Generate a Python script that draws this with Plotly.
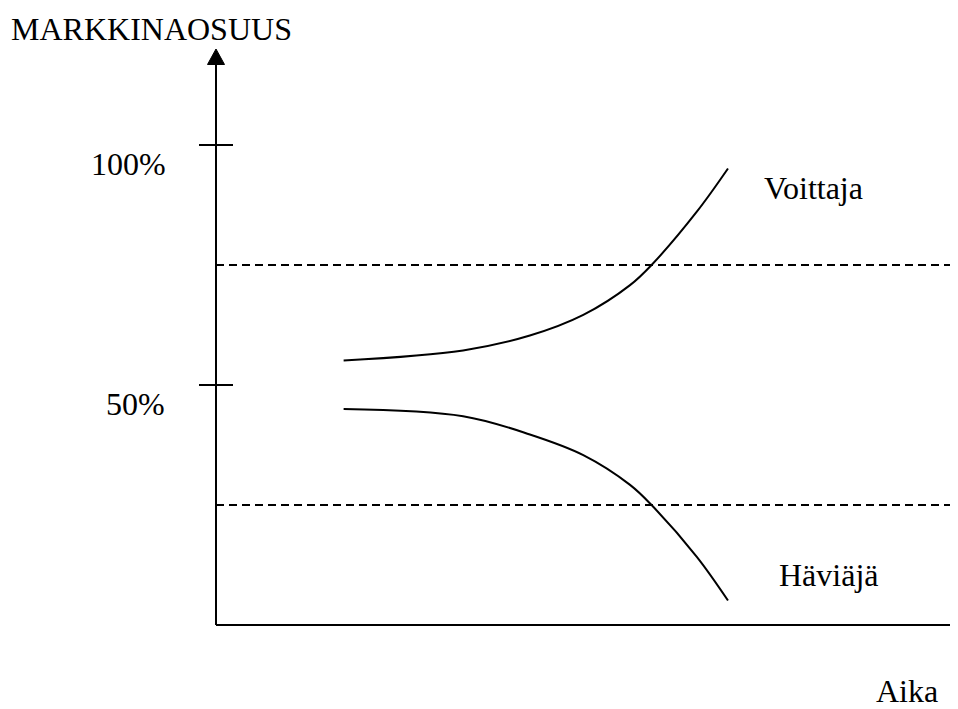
import plotly.graph_objects as go

# ---- data (time in arbitrary units, share in %) ----
time_points = [17.2, 33.3, 42.3, 49.5, 55.8, 58.7, 64.8, 69.0]
winner_share = [55.1, 57.2, 60.3, 64.6, 70.8, 75.0, 86.1, 95.1]
loser_share = [45.0, 43.5, 39.7, 35.4, 29.2, 25.0, 14.2, 5.1]
threshold_levels = [75, 25]
tick_values = [100, 50]
tick_labels = ["100%", "50%"]
series_labels = ["Voittaja", "Häviäjä"]
y_title = "MARKKINAOSUUS"
x_title = "Aika"

PAGE_W, PAGE_H = 958, 709
BODY_MARGIN = 8
W, H = PAGE_W - BODY_MARGIN, PAGE_H - BODY_MARGIN
# page pixel -> data helpers (layout only)
X0_PX, XSCALE = 216, 7.42
Y0_PX, YSCALE = 625, 4.8


def X(px):
    return (px - X0_PX) / XSCALE


def Y(py):
    return (Y0_PX - py) / YSCALE


FONT = dict(family="Liberation Serif, Times New Roman, serif", size=32, color="black")
LW = 2

fig = go.Figure()
fig.add_trace(go.Scatter(x=time_points, y=winner_share, mode="lines",
                         line=dict(color="black", width=LW, shape="spline", smoothing=1.0),
                         hoverinfo="skip", showlegend=False))
fig.add_trace(go.Scatter(x=time_points, y=loser_share, mode="lines",
                         line=dict(color="black", width=LW, shape="spline", smoothing=1.0),
                         hoverinfo="skip", showlegend=False))

shapes = []
# dashed threshold lines
for lv in threshold_levels:
    shapes.append(dict(type="line", xref="x", yref="y", x0=X(216), x1=X(960), y0=lv, y1=lv,
                       line=dict(color="black", width=LW, dash="8px,5px")))
# axes
shapes.append(dict(type="line", xref="x", yref="y", x0=0, x1=0, y0=0, y1=Y(62),
                   line=dict(color="black", width=LW)))
shapes.append(dict(type="line", xref="x", yref="y", x0=0, x1=X(954), y0=0, y1=0,
                   line=dict(color="black", width=LW)))
# arrow heads
shapes.append(dict(type="path", xref="x", yref="y",
                   path=f"M {X(207.5)} {Y(64.5)} L {X(216)} {Y(49)} L {X(224.5)} {Y(64.5)} Z",
                   fillcolor="black", line=dict(color="black", width=1)))
shapes.append(dict(type="path", xref="x", yref="y",
                   path=f"M {X(952)} {Y(616.5)} L {X(967)} {Y(625)} L {X(952)} {Y(633.5)} Z",
                   fillcolor="black", line=dict(color="black", width=1)))
# ticks
for tv in tick_values:
    shapes.append(dict(type="line", xref="x", yref="y", x0=X(199), x1=X(233), y0=tv, y1=tv,
                       line=dict(color="black", width=LW)))

annotations = []
annotations.append(dict(x=X(9), y=Y(29), text=y_title, showarrow=False,
                        xanchor="left", yanchor="middle", font=FONT))
tick_px = [(89, 164), (104, 404)]
for (lx, ly), lab in zip(tick_px, tick_labels):
    annotations.append(dict(x=X(lx), y=Y(ly), text=lab, showarrow=False,
                            xanchor="left", yanchor="middle", font=FONT))
annotations.append(dict(x=X(762), y=Y(188), text=series_labels[0], showarrow=False,
                        xanchor="left", yanchor="middle", font=FONT))
annotations.append(dict(x=X(777), y=Y(575), text=series_labels[1], showarrow=False,
                        xanchor="left", yanchor="middle", font=FONT))
annotations.append(dict(x=X(874), y=Y(691), text=x_title, showarrow=False,
                        xanchor="left", yanchor="middle", font=FONT))

fig.update_layout(
    width=W, height=H,
    margin=dict(l=0, r=0, t=0, b=0),
    paper_bgcolor="white", plot_bgcolor="white",
    xaxis=dict(range=[X(BODY_MARGIN), X(PAGE_W)], visible=False, fixedrange=True),
    yaxis=dict(range=[Y(PAGE_H), Y(BODY_MARGIN)], visible=False, fixedrange=True),
    shapes=shapes, annotations=annotations, showlegend=False,
)

fig.write_html("out.html")
